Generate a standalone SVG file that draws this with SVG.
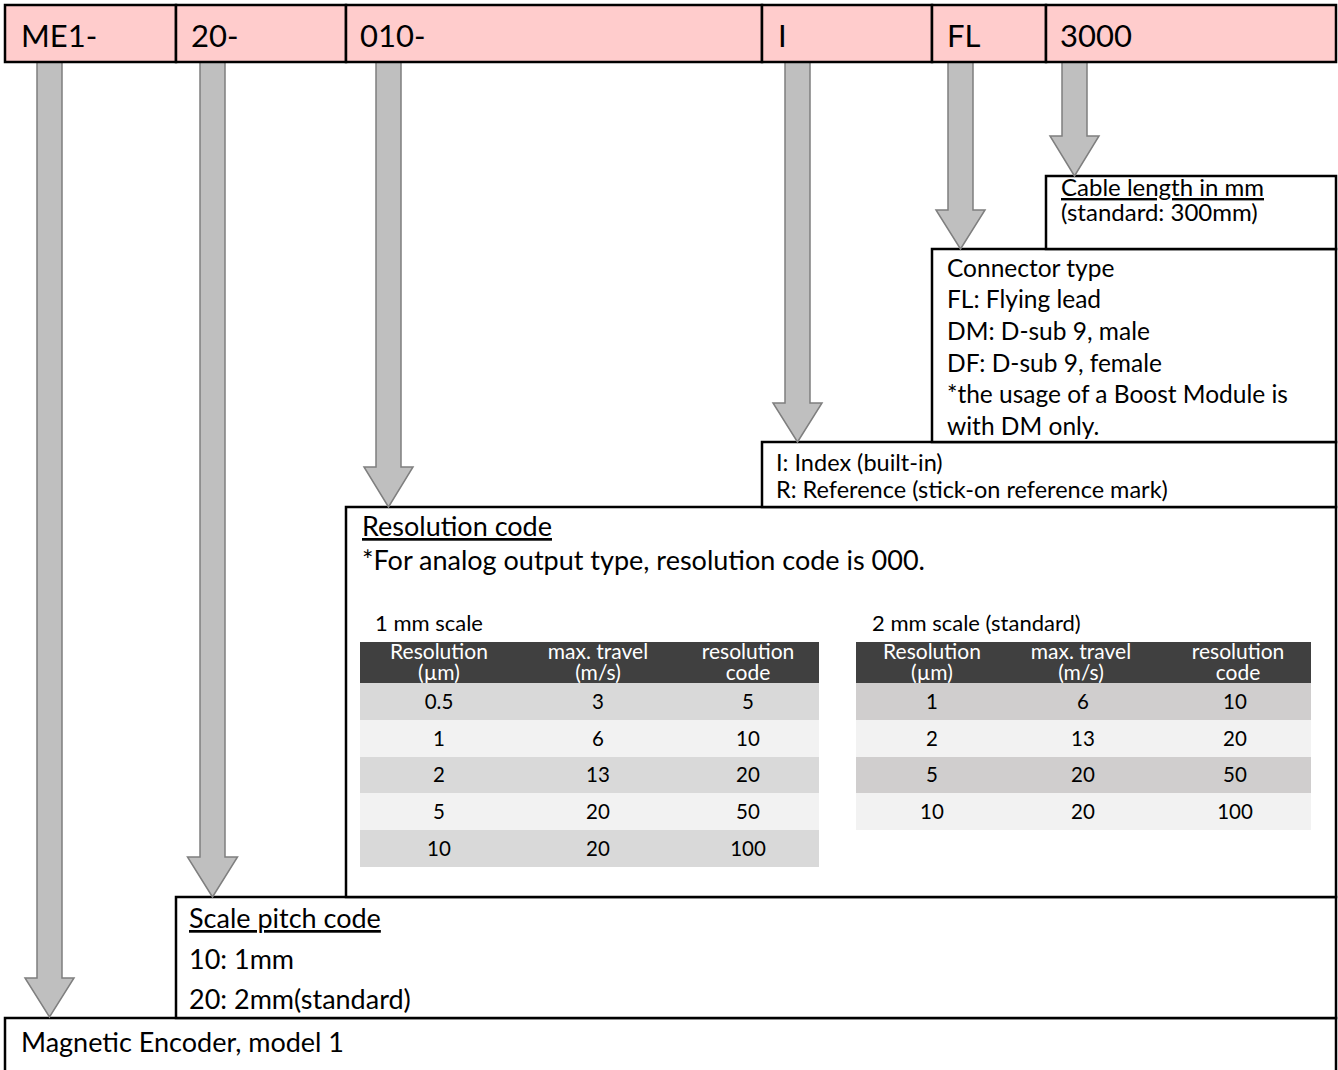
<svg xmlns="http://www.w3.org/2000/svg" width="1338" height="1070" viewBox="0 0 1338 1070">
<style>
text{font-family:Lato,"Liberation Sans",sans-serif;fill:#000}
.bar{fill:#FFCCCC;stroke:#000;stroke-width:2.5}
.box{fill:#fff;stroke:#000;stroke-width:2.5}
.code{font-size:31px}
.big{font-size:27px}
.t{font-size:24.5px}
.c{font-size:24px}
.s{font-size:23.5px}
.u{text-decoration:underline}
.arr{fill:#BFBFBF;stroke:#7F7F7F;stroke-width:1.5;stroke-linejoin:miter}
.hd{fill:#404040}
.hdt{font-size:21px;fill:#fff;text-anchor:middle}
.td{font-size:20.5px;text-anchor:middle}
.cap{font-size:22px}
.r1{fill:#D9D9D9}
.r2{fill:#F2F2F2}
.r3{fill:#D0CECE}
</style>

<g id="magnetic-box">
<rect class="box" x="5" y="1018" width="1331" height="60"/>
<text class="big" x="21" y="1052">Magnetic Encoder, model 1</text>
</g>

<g id="scale-pitch-box">
<rect class="box" x="176" y="897" width="1160" height="121"/>
<text class="big u" x="189" y="928">Scale pitch code</text>
<text class="big" x="189" y="969">10: 1mm</text>
<text class="big" x="189" y="1009">20: 2mm(standard)</text>
</g>

<g id="resolution-box">
<rect class="box" x="346" y="507" width="990" height="390"/>
<text class="big u" x="362" y="536">Resolution code</text>
<text class="big" x="362" y="570">*For analog output type, resolution code is 000.</text>
</g>

<g id="table-1mm">
<text class="cap" x="375" y="631">1 mm scale</text>
<rect class="hd" x="360" y="642" width="459" height="41"/>
<text class="hdt" x="439" y="659">Resolution</text>
<text class="hdt" x="439" y="680">(µm)</text>
<text class="hdt" x="598" y="659">max. travel</text>
<text class="hdt" x="598" y="680">(m/s)</text>
<text class="hdt" x="748" y="659">resolution</text>
<text class="hdt" x="748" y="680">code</text>
<rect class="r1" x="360" y="683" width="459" height="37"/>
<rect class="r2" x="360" y="720" width="459" height="37"/>
<rect class="r1" x="360" y="757" width="459" height="36"/>
<rect class="r2" x="360" y="793" width="459" height="37"/>
<rect class="r1" x="360" y="830" width="459" height="37"/>
<text class="td" x="439" y="709">0.5</text><text class="td" x="598" y="709">3</text><text class="td" x="748" y="709">5</text>
<text class="td" x="439" y="746">1</text><text class="td" x="598" y="746">6</text><text class="td" x="748" y="746">10</text>
<text class="td" x="439" y="782">2</text><text class="td" x="598" y="782">13</text><text class="td" x="748" y="782">20</text>
<text class="td" x="439" y="819">5</text><text class="td" x="598" y="819">20</text><text class="td" x="748" y="819">50</text>
<text class="td" x="439" y="856">10</text><text class="td" x="598" y="856">20</text><text class="td" x="748" y="856">100</text>
</g>

<g id="table-2mm">
<text class="cap" x="872" y="631">2 mm scale (standard)</text>
<rect class="hd" x="856" y="642" width="455" height="41"/>
<text class="hdt" x="932" y="659">Resolution</text>
<text class="hdt" x="932" y="680">(µm)</text>
<text class="hdt" x="1081" y="659">max. travel</text>
<text class="hdt" x="1081" y="680">(m/s)</text>
<text class="hdt" x="1238" y="659">resolution</text>
<text class="hdt" x="1238" y="680">code</text>
<rect class="r3" x="856" y="683" width="455" height="37"/>
<rect class="r2" x="856" y="720" width="455" height="37"/>
<rect class="r3" x="856" y="757" width="455" height="36"/>
<rect class="r2" x="856" y="793" width="455" height="37"/>
<text class="td" x="932" y="709">1</text><text class="td" x="1083" y="709">6</text><text class="td" x="1235" y="709">10</text>
<text class="td" x="932" y="746">2</text><text class="td" x="1083" y="746">13</text><text class="td" x="1235" y="746">20</text>
<text class="td" x="932" y="782">5</text><text class="td" x="1083" y="782">20</text><text class="td" x="1235" y="782">50</text>
<text class="td" x="932" y="819">10</text><text class="td" x="1083" y="819">20</text><text class="td" x="1235" y="819">100</text>
</g>

<g id="index-box">
<rect class="box" x="762" y="442" width="574" height="65"/>
<text class="s" x="776" y="471">I: Index (built-in)</text>
<text class="s" x="776" y="498">R: Reference (stick-on reference mark)</text>
</g>

<g id="connector-box">
<rect class="box" x="932" y="249" width="404" height="193"/>
<text class="t" x="947" y="277">Connector type</text>
<text class="t" x="947" y="308">FL: Flying lead</text>
<text class="t" x="947" y="340">DM: D-sub 9, male</text>
<text class="t" x="947" y="372">DF: D-sub 9, female</text>
<text class="t" x="947" y="403">*the usage of a Boost Module is</text>
<text class="t" x="947" y="435">with DM only.</text>
</g>

<g id="cable-box">
<rect class="box" x="1046" y="176" width="290" height="73"/>
<text class="c u" x="1061" y="196">Cable length in mm</text>
<text class="c" x="1061" y="221">(standard: 300mm)</text>
</g>

<g id="connectors">
<path class="arr" d="M37,62 H62 V978 H74 L49.5,1017 L25,978 H37 Z"/>
<path class="arr" d="M200,62 H225 V857 H237.5 L212.5,897 L187.5,857 H200 Z"/>
<path class="arr" d="M376,62 H401 V467 H413 L388.5,507 L364,467 H376 Z"/>
<path class="arr" d="M785,62 H810 V403 H822 L797.5,442 L773,403 H785 Z"/>
<path class="arr" d="M948,62 H973 V210 H985 L960.5,249 L936,210 H948 Z"/>
<path class="arr" d="M1062,62 H1087 V136 H1099 L1074.5,176 L1050,136 H1062 Z"/>
</g>

<g id="code-bar">
<rect class="bar" x="5" y="5" width="171" height="57"/>
<rect class="bar" x="176" y="5" width="170" height="57"/>
<rect class="bar" x="346" y="5" width="416" height="57"/>
<rect class="bar" x="762" y="5" width="170" height="57"/>
<rect class="bar" x="932" y="5" width="114" height="57"/>
<rect class="bar" x="1046" y="5" width="290" height="57"/>
<text class="code" x="21" y="47">ME1-</text>
<text class="code" x="191" y="47">20-</text>
<text class="code" x="360" y="47">010-</text>
<text class="code" x="778" y="47">I</text>
<text class="code" x="947" y="47">FL</text>
<text class="code" x="1060" y="47">3000</text>
</g>
</svg>
